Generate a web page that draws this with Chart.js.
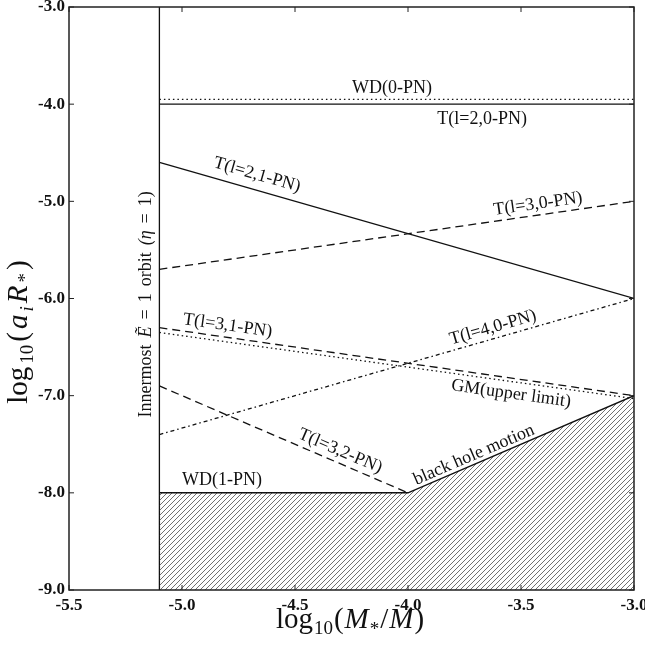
<!DOCTYPE html>
<html>
<head>
<meta charset="utf-8">
<script src="https://cdn.jsdelivr.net/npm/chart.js@4.4.1/dist/chart.umd.min.js"></script>
<style>
  html, body { margin: 0; padding: 0; background: #fff; }
  #wrap { width: 645px; height: 645px; }
</style>
</head>
<body>
<div id="wrap"><canvas id="chart" width="645" height="645"></canvas></div>
<script>
// x = log10(M*/M), y = log10(a_i R*)
var xEnds = [-5.1, -3.0];
var wd0 = [-3.95, -3.95];
var t20 = [-4.0, -4.0];
var t21 = [-4.6, -6.0];
var t30 = [-5.7, -5.0];
var t31 = [-6.3, -7.0];
var gmUpper = [-6.35, -7.03];
var t40 = [-7.4, -6.0];
var t32X = [-5.1, -4.0];
var t32 = [-6.9, -8.0];
var bhX = [-5.1, -4.0, -3.0];
var bh = [-8.0, -8.0, -7.0];
var innerX = [-5.1, -5.1];
var innerY = [-9.0, -3.0];
var xTicks = [-5.5, -5.0, -4.5, -4.0, -3.5, -3.0];
var yTicks = [-9.0, -8.0, -7.0, -6.0, -5.0, -4.0, -3.0];

function pts(xs, ys) {
    return xs.map(function (x, i) { return { x: x, y: ys[i] }; });
}

function hatch() {
    var c = document.createElement('canvas');
    c.width = 5; c.height = 5;
    var g = c.getContext('2d');
    g.strokeStyle = '#333';
    g.lineWidth = 0.7;
    g.beginPath();
    g.moveTo(0, 5); g.lineTo(5, 0);
    g.moveTo(-1, 1); g.lineTo(1, -1);
    g.moveTo(4, 6); g.lineTo(6, 4);
    g.stroke();
    return g.createPattern(c, 'repeat');
}

function line(label, xs, ys, dash) {
    return {
        label: label,
        data: pts(xs, ys),
        showLine: true,
        borderColor: '#111',
        borderWidth: 1.3,
        borderDash: dash,
        pointRadius: 0,
        fill: false
    };
}

// text labels: [text, x, y, dataset index for angle (-1 = none, -2 = sloped part of black hole line)]
var notes = [
    ['WD(0-PN)', -4.071, -3.833, -1],
    ['T(l=2,0-PN)', -3.672, -4.152, -1],
    ['T(l=2,1-PN)', -4.668, -4.728, 2],
    ['T(l=3,0-PN)', -3.425, -5.027, 3],
    ['T(l=3,1-PN)', -4.798, -6.28, 4],
    ['T(l=4,0-PN)', -3.624, -6.30, 6],
    ['GM(upper limit)', -3.544, -6.98, 5],
    ['T(l=3,2-PN)', -4.30, -7.57, 7],
    ['WD(1-PN)', -4.823, -7.866, -1],
    ['black hole motion', -3.708, -7.61, -2]
];

function drawMath(g, parts, cx, cy, rot, gap) {
    g.save();
    g.translate(cx, cy);
    g.rotate(rot);
    var w = 0;
    parts.forEach(function (p) { g.font = p[1]; w += g.measureText(p[0]).width + gap; });
    w -= gap;
    var x = -w / 2;
    g.textBaseline = 'alphabetic';
    g.textAlign = 'left';
    parts.forEach(function (p) {
        g.font = p[1];
        g.fillText(p[0], x, p[2] || 0);
        x += g.measureText(p[0]).width + gap;
    });
    g.restore();
}

var decor = {
    id: 'decor',
    afterDatasetsDraw: function (chart) {
        var g = chart.ctx, a = chart.chartArea;
        var sx = chart.scales.x, sy = chart.scales.y;
        g.save();
        g.strokeStyle = '#222';
        g.lineWidth = 1.5;
        g.strokeRect(a.left, a.top, a.right - a.left, a.bottom - a.top);
        g.lineWidth = 1;
        g.beginPath();
        xTicks.forEach(function (v) {
            var p = sx.getPixelForValue(v);
            g.moveTo(p, a.bottom); g.lineTo(p, a.bottom - 5);
            g.moveTo(p, a.top); g.lineTo(p, a.top + 5);
        });
        yTicks.forEach(function (v) {
            var p = sy.getPixelForValue(v);
            g.moveTo(a.left, p); g.lineTo(a.left + 5, p);
            g.moveTo(a.right, p); g.lineTo(a.right - 5, p);
        });
        g.stroke();

        g.fillStyle = '#111';
        g.font = '18px "Liberation Serif"';
        g.textAlign = 'center';
        g.textBaseline = 'middle';
        notes.forEach(function (n) {
            var ang = 0;
            if (n[3] !== -1) {
                var d = n[3] === -2 ? chart.data.datasets[8].data.slice(1) : chart.data.datasets[n[3]].data;
                var p0 = d[0], p1 = d[d.length - 1];
                ang = Math.atan2(sy.getPixelForValue(p1.y) - sy.getPixelForValue(p0.y),
                                 sx.getPixelForValue(p1.x) - sx.getPixelForValue(p0.x));
            }
            g.save();
            g.translate(sx.getPixelForValue(n[1]), sy.getPixelForValue(n[2]));
            g.rotate(ang);
            g.fillText(n[0], 0, 0);
            g.restore();
        });

        var rm = '18px "Liberation Serif"', it = 'italic 18px "Liberation Serif"';
        drawMath(g, [['Innermost', rm, 6], ['E\u0303', it, 6], ['=', rm, 6], ['1', rm, 6], ['orbit', rm, 6], ['(\u03b7', it, 6], ['=', rm, 6], ['1)', rm, 6]],
            sx.getPixelForValue(-5.164), sy.getPixelForValue(-6.06), -Math.PI / 2, 7);

        var big = '29px "Liberation Serif"', bigI = 'italic 29px "Liberation Serif"', sub = '19px "Liberation Serif"', subI = 'italic 19px "Liberation Serif"';
        drawMath(g, [['log', big, 0], ['10', sub, 6], ['(', big, 0], ['M', bigI, 0], ['*', sub, 7], ['/', big, 0], ['M', bigI, 0], [')', big, 0]],
            350, 628, 0, 1);
        drawMath(g, [['log', big, 0], ['10', sub, 6], ['(', big, 0], ['a', bigI, 0], ['i', subI, 6], ['R', bigI, 0], ['*', sub, 4], [')', big, 0]],
            27, 332, -Math.PI / 2, 3);
        g.restore();
    }
};

var ctx = document.getElementById('chart').getContext('2d');
var chart = new Chart(ctx, {
    type: 'scatter',
    data: {
        datasets: [
            line('WD(0-PN)', xEnds, wd0, [1.5, 3]),
            line('T(l=2,0-PN)', xEnds, t20, []),
            line('T(l=2,1-PN)', xEnds, t21, []),
            line('T(l=3,0-PN)', xEnds, t30, [8, 5]),
            line('T(l=3,1-PN)', xEnds, t31, [8, 5]),
            line('GM(upper limit)', xEnds, gmUpper, [1.5, 3]),
            line('T(l=4,0-PN)', xEnds, t40, [4, 3, 1.5, 3]),
            line('T(l=3,2-PN)', t32X, t32, [8, 5]),
            Object.assign(line('black hole motion', bhX, bh, []), {
                fill: 'start', backgroundColor: hatch(), borderWidth: 1.5
            }),
            line('Innermost', innerX, innerY, [])
        ]
    },
    options: {
        responsive: false,
        animation: false,
        layout: { padding: { top: 7, right: 11, left: 0, bottom: 0 } },
        plugins: { legend: { display: false }, tooltip: { enabled: false } },
        scales: {
            x: {
                type: 'linear',
                min: -5.5, max: -3.0,
                grid: { display: false, drawTicks: false },
                border: { display: false },
                afterBuildTicks: function (s) { s.ticks = xTicks.map(function (v) { return { value: v }; }); },
                afterFit: function (s) { s.height = 55; s.paddingLeft = 0; s.paddingRight = 0; },
                ticks: {
                    padding: 5,
                    color: '#111',
                    font: { family: '"Liberation Serif"', size: 17, weight: 'bold' },
                    maxRotation: 0,
                    autoSkip: false,
                    callback: function (v) { return v.toFixed(1); }
                }
            },
            y: {
                type: 'linear',
                min: -9.0, max: -3.0,
                grid: { display: false, drawTicks: false },
                border: { display: false },
                afterBuildTicks: function (s) { s.ticks = yTicks.map(function (v) { return { value: v }; }); },
                afterFit: function (s) { s.width = 69; s.paddingTop = 0; s.paddingBottom = 0; },
                ticks: {
                    padding: 4,
                    color: '#111',
                    font: { family: '"Liberation Serif"', size: 17, weight: 'bold' },
                    autoSkip: false,
                    callback: function (v) { return v.toFixed(1); }
                }
            }
        }
    },
    plugins: [decor]
});
</script>
</body>
</html>
